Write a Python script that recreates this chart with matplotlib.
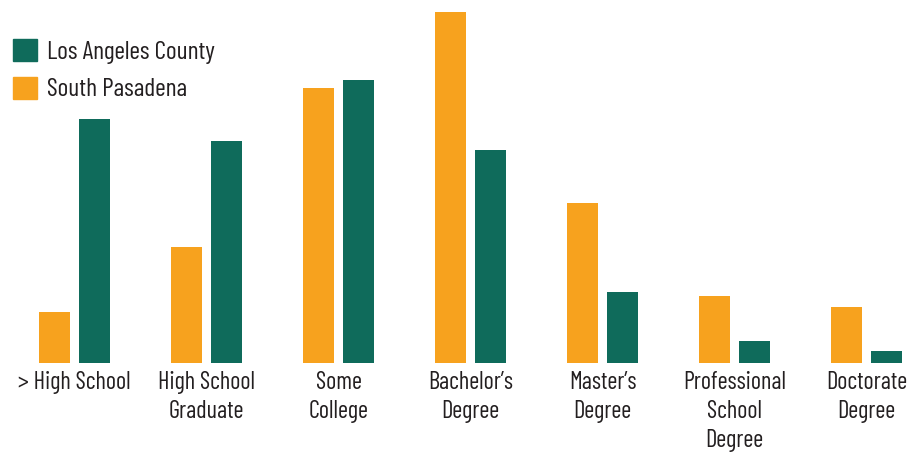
import matplotlib
matplotlib.use("Agg")
import matplotlib.pyplot as plt
from matplotlib import font_manager
from matplotlib.patches import Patch
import numpy as np

categories = ["> High School", "High School\nGraduate", "Some\nCollege", "Bachelor\u2019s\nDegree",
              "Master\u2019s\nDegree", "Professional\nSchool\nDegree", "Doctorate\nDegree"]
south_pasadena = [4.8, 10.9, 25.9, 33.1, 15.1, 6.3, 5.3]
la_county = [23.0, 20.9, 26.7, 20.1, 6.7, 2.1, 1.1]

ORANGE = "#F7A21E"
GREEN = "#0F6B5B"
TEXT = "#231F20"


def pick_font(names):
    have = {f.name for f in font_manager.fontManager.ttflist}
    for n in names:
        if n in have:
            return n
    return "DejaVu Sans"


font = pick_font(["Barlow Condensed", "PT Sans Narrow", "Roboto Condensed",
                  "Fira Sans Condensed", "Asap Condensed"])
plt.rcParams["font.family"] = [font, "DejaVu Sans"]

fig = plt.figure(figsize=(9.07, 4.57), dpi=100)
ax = fig.add_axes([0, 0, 1, 1])

x = np.arange(len(categories))
w = 0.235
off = 0.155
ax.bar(x - off, south_pasadena, w, color=ORANGE)
ax.bar(x + off, la_county, w, color=GREEN)

for xi, lab in zip(x, categories):
    ax.annotate(lab, (xi, 0), xytext=(0, -6), textcoords="offset points",
                ha="center", va="top", fontsize=17.5, color=TEXT, linespacing=1.33)

handles = [Patch(color=GREEN, label="Los Angeles County"),
           Patch(color=ORANGE, label="South Pasadena")]
leg = ax.legend(handles=handles, loc="upper left", bbox_to_anchor=(0.003, 0.937),
                frameon=False, fontsize=18.5, handlelength=0.93, handleheight=0.93,
                handletextpad=0.4, labelspacing=0.5, borderaxespad=0)
for t in leg.get_texts():
    t.set_color(TEXT)

ax.set_xlim(-0.5644, 6.3068)
ax.set_ylim(-8.868, 34.245)
ax.axis("off")

fig.savefig("out.png", dpi=100)
